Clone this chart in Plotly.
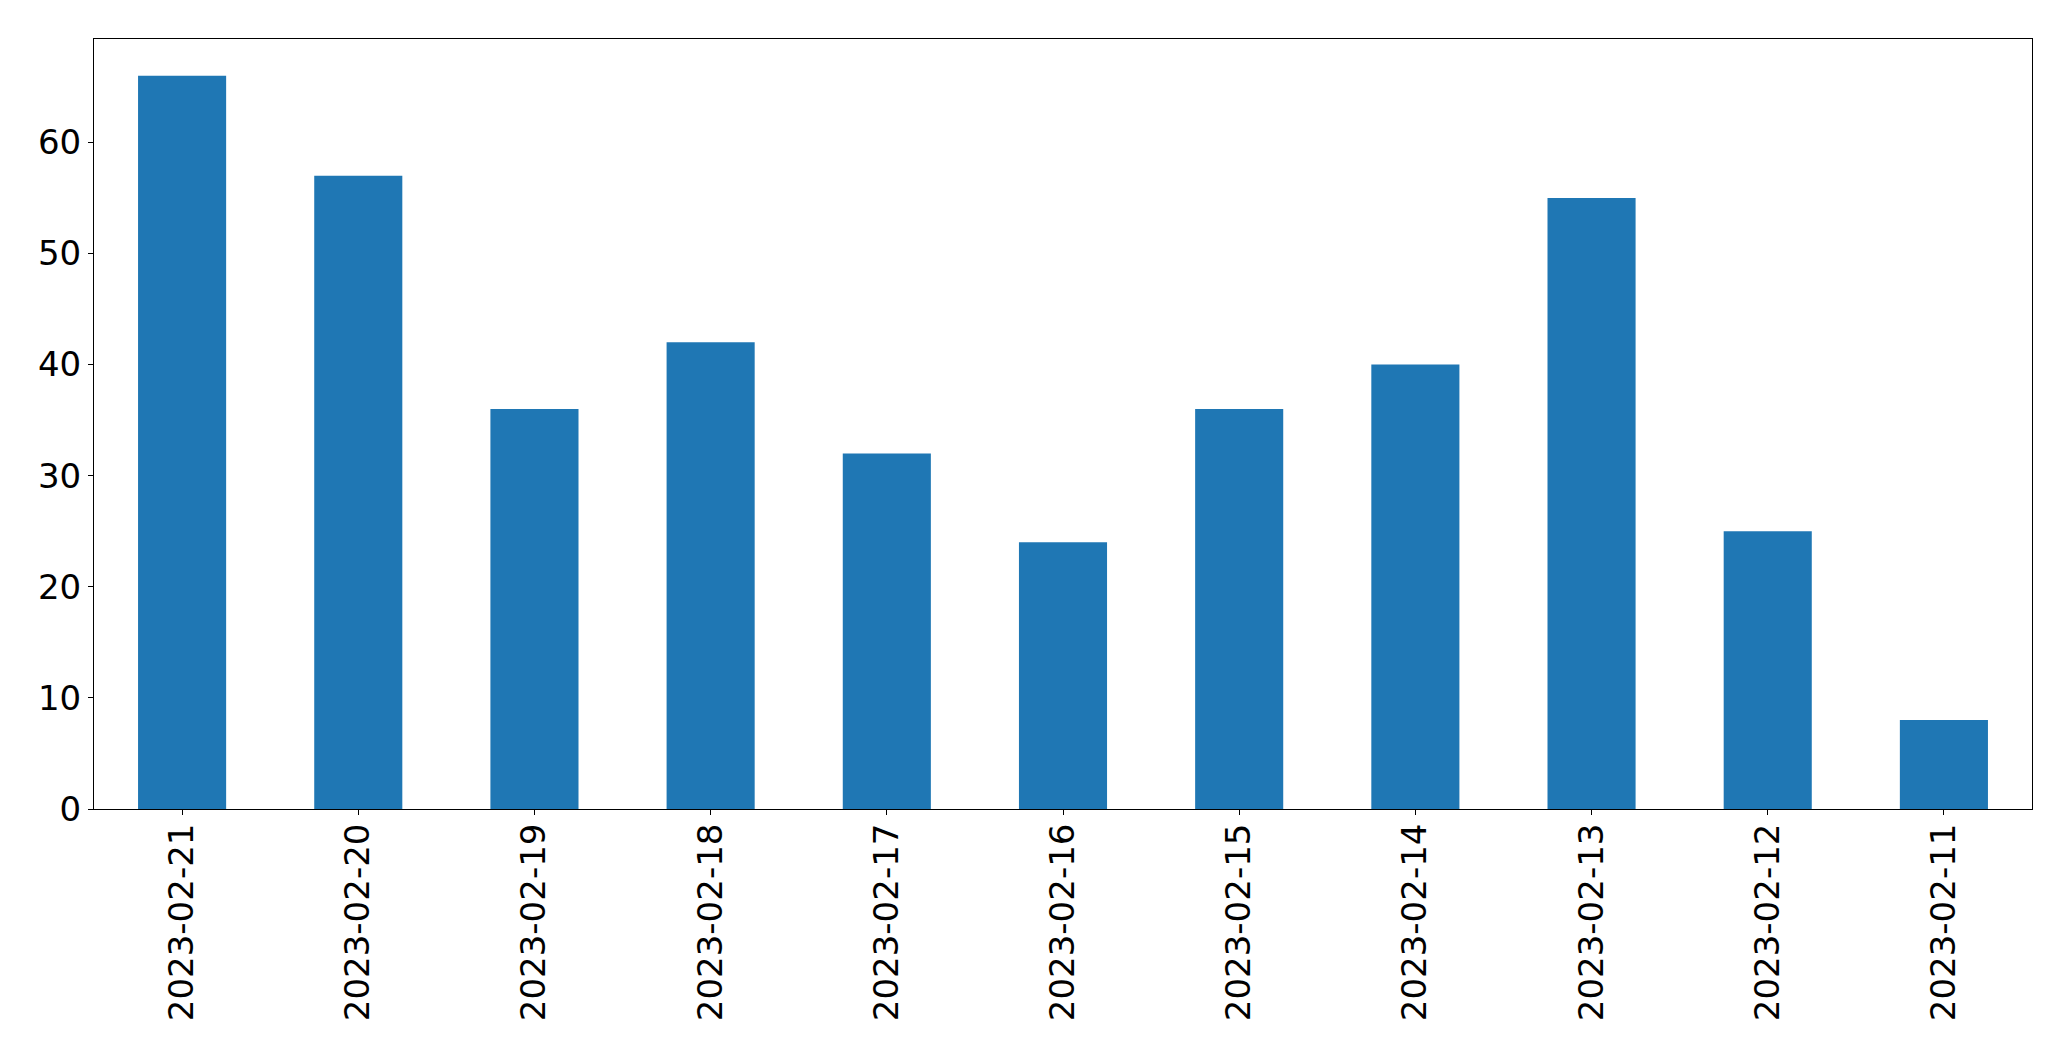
import plotly.graph_objects as go

dates = ["2023-02-21", "2023-02-20", "2023-02-19", "2023-02-18", "2023-02-17",
         "2023-02-16", "2023-02-15", "2023-02-14", "2023-02-13", "2023-02-12",
         "2023-02-11"]
counts = [66, 57, 36, 42, 32, 24, 36, 40, 55, 25, 8]
y_ticks = [0, 10, 20, 30, 40, 50, 60]

fig = go.Figure(go.Bar(
    x=dates, y=counts, width=0.5,
    marker=dict(color="#1f77b4", line=dict(width=0)),
))

axis_common = dict(
    showline=True, linecolor="black", linewidth=1, mirror=True,
    ticks="outside", ticklen=5, tickwidth=1, tickcolor="black",
    showgrid=False, zeroline=False,
    tickfont=dict(family="DejaVu Sans", size=34, color="black"),
)

fig.update_layout(
    width=2071, height=1061,
    margin=dict(l=86, r=47, t=31, b=260, pad=0),
    paper_bgcolor="white", plot_bgcolor="white",
    showlegend=False,
    xaxis=dict(type="category", range=[-0.5, 10.5], tickangle=-90,
               ticklabelstandoff=-5, **axis_common),
    yaxis=dict(range=[0, 69.3], tickvals=y_ticks, **axis_common),
)

fig.write_html("out.html")
